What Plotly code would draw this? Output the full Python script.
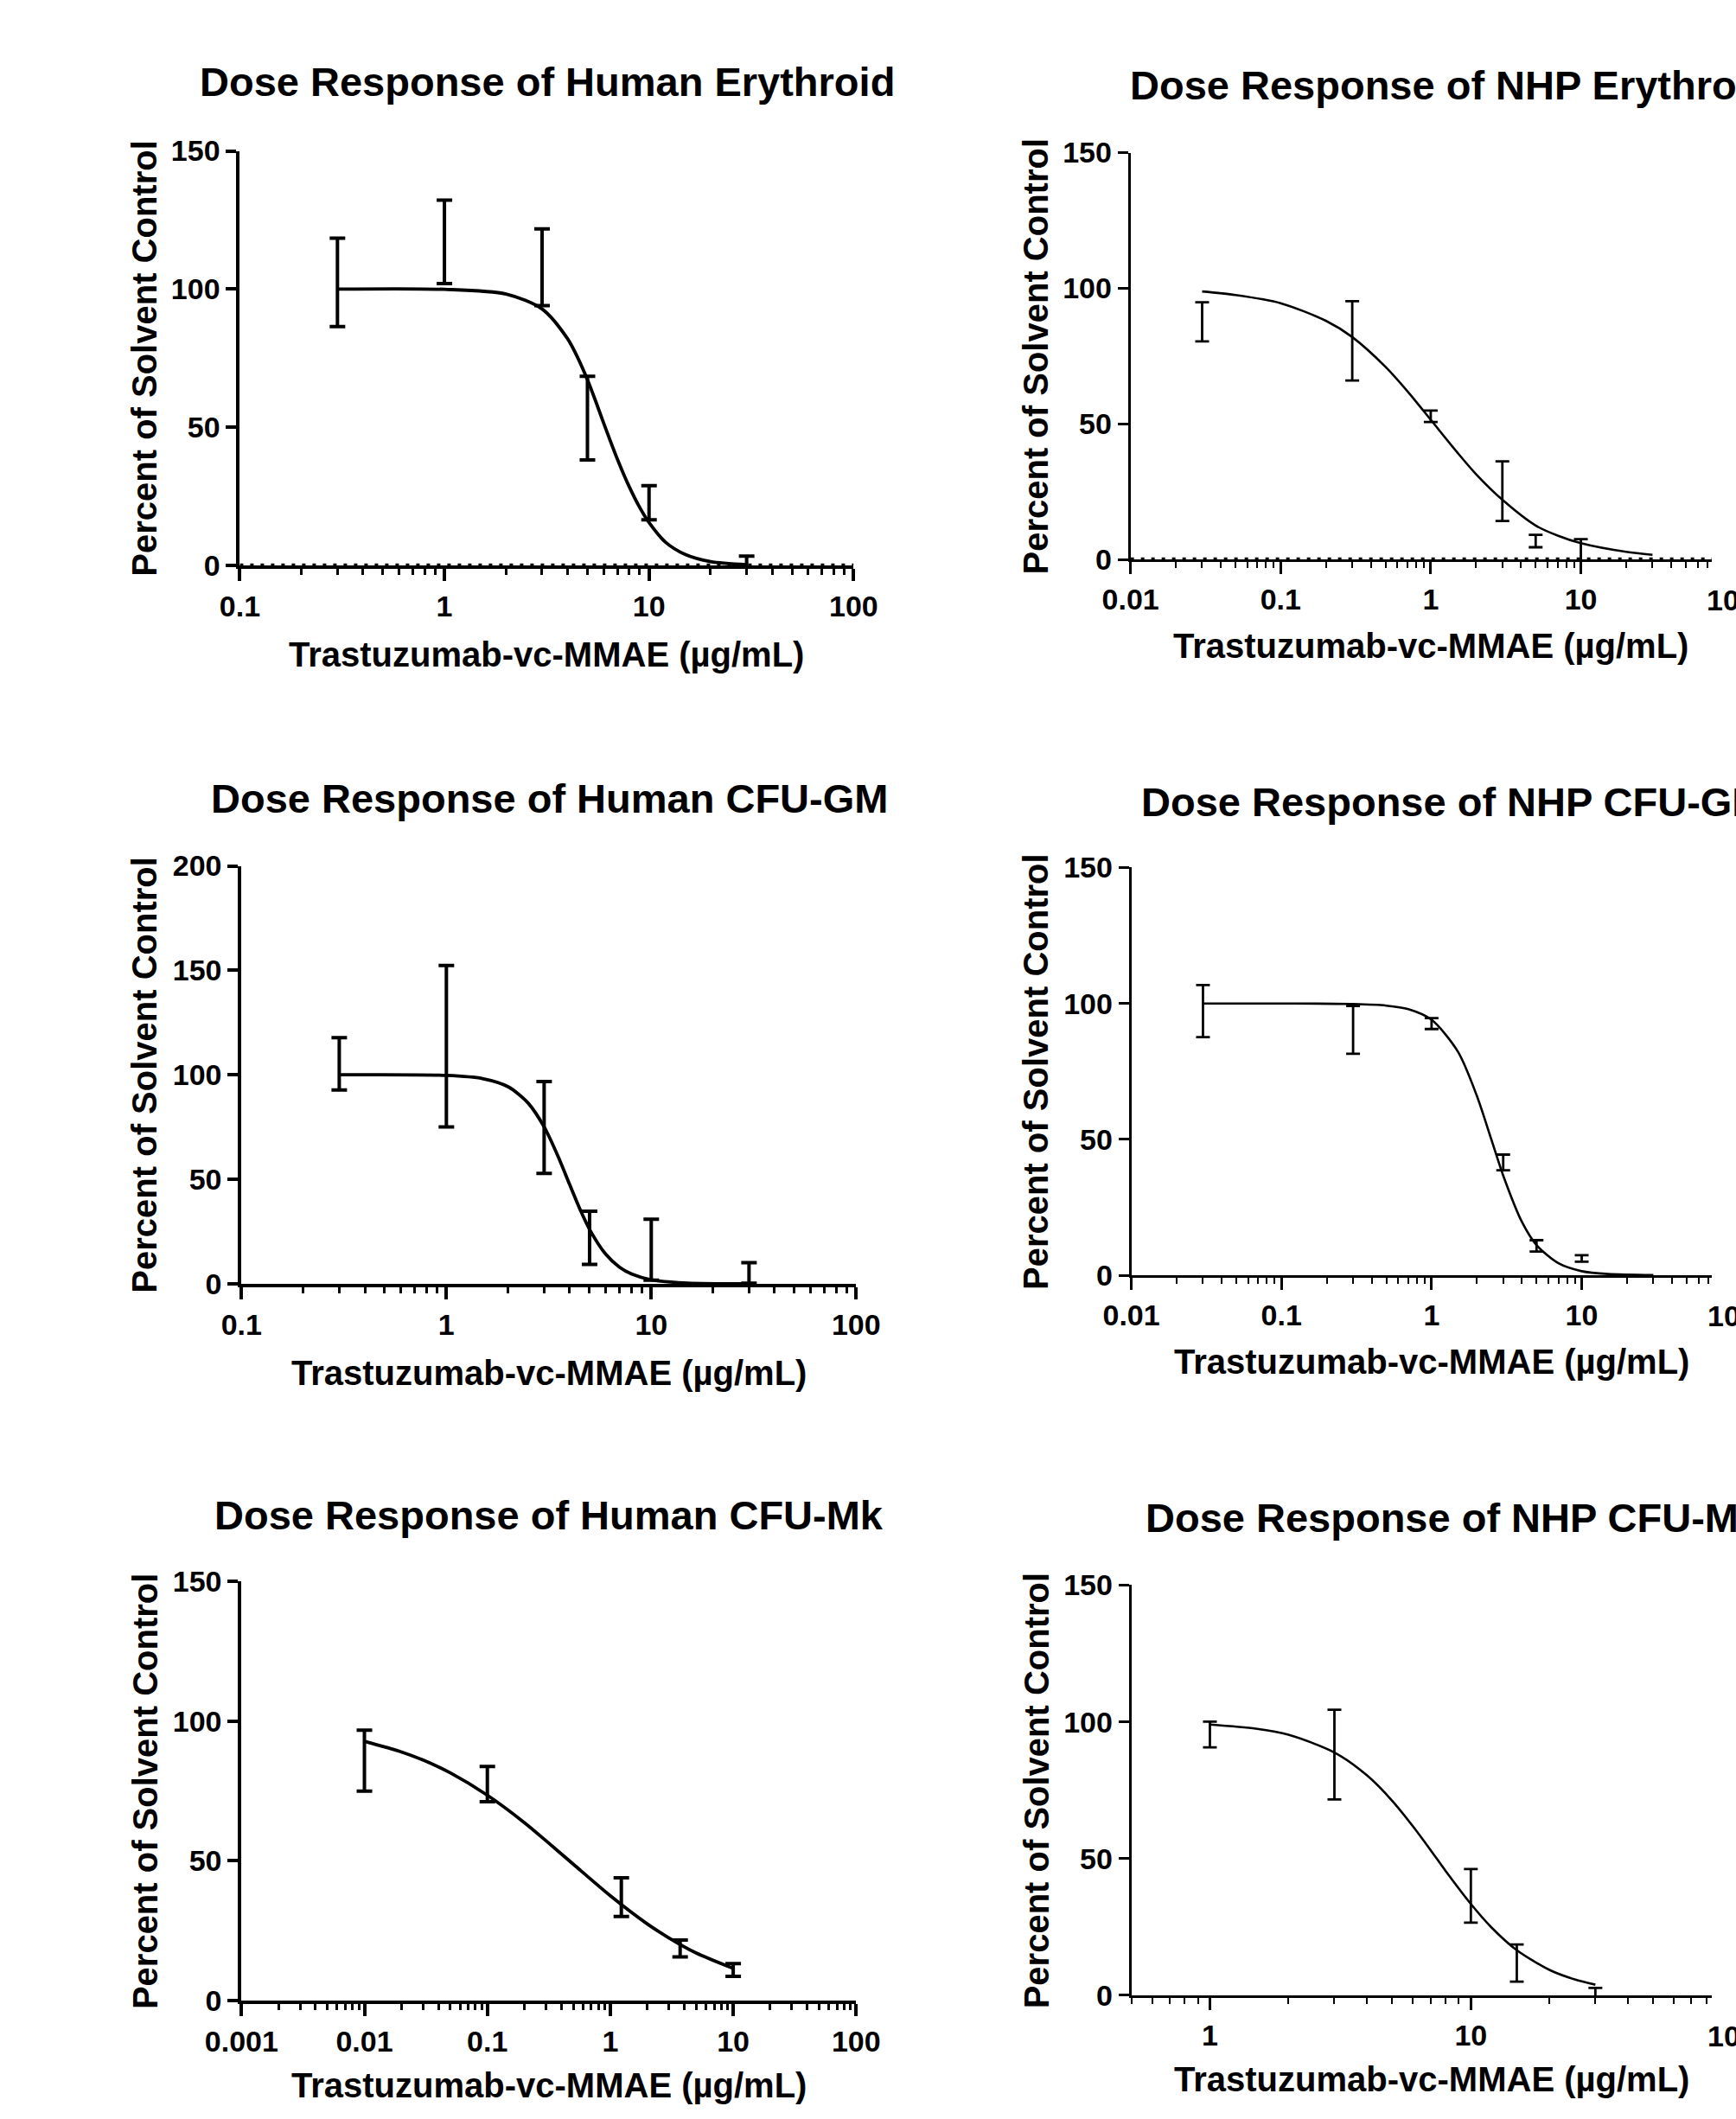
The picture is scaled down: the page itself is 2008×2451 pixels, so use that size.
import plotly.graph_objects as go

W, H = 2008, 2451
FONT = "Liberation Sans, Arial, sans-serif"

# ---------------- data ----------------
# Human Erythroid
he_dose = [0.3, 1, 3, 5, 10, 30]
he_mean = [102.4, 117.1, 107.9, 53.3, 22.7, 0.4]
he_sd = [16.0, 15.1, 13.9, 15.1, 6.2, 3.0]
he_fit_x = [0.3, 1, 2, 3, 4, 4.5, 5, 5.5, 6, 7, 8, 9, 10, 12, 15, 20, 30]
he_fit_y = [100, 99.9, 98.2, 92.8, 82.0, 74.9, 67.2, 59.2, 51.5, 38.5, 28.5, 21.0, 15.5, 8.5, 4.0, 1.4, 0.3]

# NHP Erythroid
ne_dose = [0.03, 0.3, 1, 3, 5, 10]
ne_mean = [87.6, 80.6, 52.8, 25.2, 6.8, 2.0]
ne_sd = [7.2, 14.6, 2.1, 11.0, 2.3, 5.5]
ne_fit_x = [0.03, 0.05, 0.1, 0.2, 0.3, 0.5, 0.7, 1, 1.5, 2, 3, 5, 7, 10, 20, 30]
ne_fit_y = [98.8, 97.5, 94.5, 88.0, 82.0, 71.0, 62.0, 51.5, 39.5, 31.5, 22.0, 12.5, 8.8, 6.0, 2.8, 1.7]

# Human CFU-GM
hg_dose = [0.3, 1, 3, 5, 10, 30]
hg_mean = [105.3, 113.7, 74.8, 22.0, 16.3, 5.2]
hg_sd = [12.5, 38.6, 22.0, 12.7, 14.6, 4.9]
hg_fit_x = [0.3, 1, 1.5, 2, 2.5, 3, 3.5, 4, 4.5, 5, 6, 7, 8, 10, 15, 30]
hg_fit_y = [100, 99.7, 98.2, 94.3, 86.6, 75.1, 61.2, 47.4, 35.4, 26.0, 14.1, 7.9, 4.7, 1.9, 0.35, 0.02]

# NHP CFU-GM
ng_dose = [0.03, 0.3, 1, 3, 5, 10]
ng_mean = [97.2, 90.3, 92.6, 41.5, 10.8, 6.2]
ng_sd = [9.6, 8.8, 2.0, 2.9, 2.1, 1.2]
ng_fit_x = [0.03, 0.1, 0.3, 0.5, 0.7, 1, 1.5, 2, 2.5, 3, 4, 5, 7, 10, 15, 30]
ng_fit_y = [100, 99.99, 99.8, 99.2, 97.9, 94.0, 82.2, 66.1, 50.0, 36.7, 19.6, 11.1, 4.4, 1.5, 0.46, 0.06]

# Human CFU-Mk
hm_dose = [0.01, 0.1, 1.23, 3.7, 10]
hm_mean = [85.9, 77.5, 37.0, 18.6, 10.9]
hm_sd = [10.9, 6.3, 6.9, 3.0, 2.3]
hm_fit_x = [0.01, 0.02, 0.03, 0.05, 0.1, 0.2, 0.3, 0.5, 1, 2, 3, 5, 10]
hm_fit_y = [92.8, 89.0, 86.1, 81.5, 73.5, 63.7, 57.2, 48.8, 37.5, 27.4, 22.4, 17.0, 11.5]

# NHP CFU-Mk
nm_dose = [1, 3, 10, 15, 30]
nm_mean = [95.4, 88.0, 36.4, 11.8, 0.7]
nm_sd = [4.7, 16.4, 9.8, 6.8, 2.0]
nm_fit_x = [1, 1.5, 2, 3, 4, 5, 6, 7, 8, 10, 12, 15, 20, 25, 30]
nm_fit_y = [99.0, 97.5, 95.3, 88.8, 80.4, 71.1, 61.8, 53.2, 45.5, 33.4, 24.8, 16.5, 9.3, 5.8, 3.9]

titles = ["Dose Response of Human Erythroid", "Dose Response of NHP Erythroid",
          "Dose Response of Human CFU-GM", "Dose Response of NHP CFU-GM",
          "Dose Response of Human CFU-Mk", "Dose Response of NHP CFU-Mk"]
x_title = "Trastuzumab-vc-MMAE (µg/mL)"
y_title = "Percent of Solvent Control"

x_ticks = {
    "he": [0.1, 1, 10, 100], "ne": [0.01, 0.1, 1, 10, 100],
    "hg": [0.1, 1, 10, 100], "ng": [0.01, 0.1, 1, 10, 100],
    "hm": [0.001, 0.01, 0.1, 1, 10, 100], "nm": [1, 10, 100],
}
x_tick_text = {
    "he": ["0.1", "1", "10", "100"], "ne": ["0.01", "0.1", "1", "10", "100"],
    "hg": ["0.1", "1", "10", "100"], "ng": ["0.01", "0.1", "1", "10", "100"],
    "hm": ["0.001", "0.01", "0.1", "1", "10", "100"], "nm": ["1", "10", "100"],
}
y_ticks = {
    "he": [0, 50, 100, 150], "ne": [0, 50, 100, 150],
    "hg": [0, 50, 100, 150, 200], "ng": [0, 50, 100, 150],
    "hm": [0, 50, 100, 150], "nm": [0, 50, 100, 150],
}
baseline_y = 0

# ---------------- layout geometry (pixels) ----------------
panels = [
    dict(key="he", dose=he_dose, mean=he_mean, sd=he_sd, fx=he_fit_x, fy=he_fit_y,
         px0=243, px1=979, py0=645, py1=158, xr=(-1, 2), ymax=150, thick=True, dotted=True,
         tx=612, ty=77, tanchor="center", xt_y=750, yt_x=129),
    dict(key="ne", dose=ne_dose, mean=ne_mean, sd=ne_sd, fx=ne_fit_x, fy=ne_fit_y,
         px0=1311, px1=2031, py0=638, py1=160, xr=(-2, 2), ymax=150, thick=False, dotted=True,
         tx=1308, ty=81, tanchor="left", xt_y=739, yt_x=1197),
    dict(key="hg", dose=hg_dose, mean=hg_mean, sd=hg_sd, fx=hg_fit_x, fy=hg_fit_y,
         px0=245, px1=982, py0=1489, py1=998, xr=(-1, 2), ymax=200, thick=True, dotted=False,
         tx=614, ty=919, tanchor="center", xt_y=1594, yt_x=129),
    dict(key="ng", dose=ng_dose, mean=ng_mean, sd=ng_sd, fx=ng_fit_x, fy=ng_fit_y,
         px0=1312, px1=2032, py0=1479, py1=1000, xr=(-2, 2), ymax=150, thick=False, dotted=False,
         tx=1322, ty=923, tanchor="left", xt_y=1580, yt_x=1198),
    dict(key="hm", dose=hm_dose, mean=hm_mean, sd=hm_sd, fx=hm_fit_x, fy=hm_fit_y,
         px0=245, px1=982, py0=2331, py1=1839, xr=(-3, 2), ymax=150, thick=True, dotted=False,
         tx=614, ty=1761, tanchor="center", xt_y=2431, yt_x=129),
    dict(key="nm", dose=nm_dose, mean=nm_mean, sd=nm_sd, fx=nm_fit_x, fy=nm_fit_y,
         px0=1312, px1=2032, py0=2325, py1=1843, xr=(-0.30103, 2), ymax=150, thick=False, dotted=False,
         tx=1327, ty=1764, tanchor="left", xt_y=2424, yt_x=1198),
]


def minor_vals(lo, hi):
    vals = []
    e = int(lo) - 1
    while e <= hi:
        for m in range(2, 10):
            v = m * 10 ** e
            if 10 ** lo <= v * 1.0001 and v <= 10 ** hi * 1.0001:
                vals.append(v)
        e += 1
    return vals


TICK_SIZE = 34
fig = go.Figure()
annotations = []
layout = dict(width=W, height=H, margin=dict(l=0, r=0, t=0, b=0),
              paper_bgcolor="white", plot_bgcolor="white", showlegend=False,
              font=dict(family=FONT, color="black"))

for i, p in enumerate(panels, start=1):
    xa = "x" if i == 1 else f"x{i}"
    ya = "y" if i == 1 else f"y{i}"
    xname = "xaxis" if i == 1 else f"xaxis{i}"
    yname = "yaxis" if i == 1 else f"yaxis{i}"
    aw = 4.0 if p["thick"] else 2.8
    lw = 3.8 if p["thick"] else 2.6

    # visible x-range (right-hand panels are cut at the page edge)
    x_lo, x_hi_full = p["xr"]
    px1_vis = min(p["px1"], W)
    x_hi = x_lo + (x_hi_full - x_lo) * (px1_vis - p["px0"]) / (p["px1"] - p["px0"])

    if p["dotted"]:
        fig.add_trace(go.Scatter(
            x=[10 ** x_lo, 10 ** x_hi], y=[baseline_y, baseline_y], mode="lines",
            line=dict(color="black", width=4.5, dash="4px,8px"),
            xaxis=xa, yaxis=ya, cliponaxis=False, hoverinfo="skip"))

    fig.add_trace(go.Scatter(
        x=p["fx"], y=p["fy"], mode="lines",
        line=dict(color="black", width=lw, shape="spline", smoothing=0.8),
        xaxis=xa, yaxis=ya, hoverinfo="skip"))

    fig.add_trace(go.Scatter(
        x=p["dose"], y=p["mean"], mode="markers",
        marker=dict(size=2, color="rgba(0,0,0,0)"),
        error_y=dict(type="data", array=p["sd"], visible=True, color="black",
                     thickness=aw, width=9 if p["thick"] else 8),
        xaxis=xa, yaxis=ya, cliponaxis=True, hoverinfo="skip"))

    k = p["key"]
    layout[xname] = dict(
        domain=[p["px0"] / W, px1_vis / W], type="log", range=[x_lo, x_hi],
        anchor=ya, showline=True, linecolor="black", linewidth=aw,
        ticks="outside", ticklen=14, tickwidth=aw, tickcolor="black",
        tickmode="array", tickvals=x_ticks[k], ticktext=x_tick_text[k],
        tickfont=dict(family=FONT, size=TICK_SIZE, color="black", weight="bold"),
        showgrid=False, zeroline=False,
        minor=dict(ticks="outside", ticklen=7, tickwidth=aw * 0.8, tickcolor="black",
                   tickmode="array", tickvals=minor_vals(x_lo, x_hi), showgrid=False))
    layout[yname] = dict(
        domain=[1 - p["py0"] / H, 1 - p["py1"] / H], range=[0, p["ymax"]],
        anchor=xa, showline=True, linecolor="black", linewidth=aw,
        ticks="outside", ticklen=12, tickwidth=aw, tickcolor="black",
        tickmode="array", tickvals=y_ticks[k],
        tickfont=dict(family=FONT, size=TICK_SIZE, color="black", weight="bold"),
        showgrid=False, zeroline=False)

    # panel title
    annotations.append(dict(
        text=titles[i - 1], x=p["tx"] / W, y=1 - p["ty"] / H, xref="paper", yref="paper",
        xanchor=p["tanchor"], yanchor="middle", showarrow=False,
        font=dict(family=FONT, size=47, color="black", weight="bold")))
    # axis titles
    annotations.append(dict(
        text=x_title, x=(p["px0"] + p["px1"]) / 2 / W, y=1 - p["xt_y"] / H,
        xref="paper", yref="paper", xanchor="center", yanchor="middle", showarrow=False,
        font=dict(family=FONT, size=40, color="black", weight="bold")))
    annotations.append(dict(
        text=y_title, x=p["yt_x"] / W, y=1 - (p["py0"] + p["py1"]) / 2 / H,
        xref="paper", yref="paper", xanchor="center", yanchor="middle", textangle=-90,
        showarrow=False, font=dict(family=FONT, size=40, color="black", weight="bold")))
    # tick label that is cut by the page edge
    if p["px1"] > W:
        annotations.append(dict(
            text="100", x=p["px1"] / W, y=1 - (p["py0"] + 48) / H, xref="paper", yref="paper",
            xanchor="center", yanchor="middle", showarrow=False,
            font=dict(family=FONT, size=TICK_SIZE, color="black", weight="bold")))

layout["annotations"] = annotations
fig.update_layout(**layout)
fig.write_html(
    "out.html", config={"displayModeBar": False},
    post_script=("document.documentElement.style.margin='0';"
                 "document.documentElement.style.overflow='hidden';"
                 "document.body.style.margin='0';document.body.style.overflow='hidden';"))
